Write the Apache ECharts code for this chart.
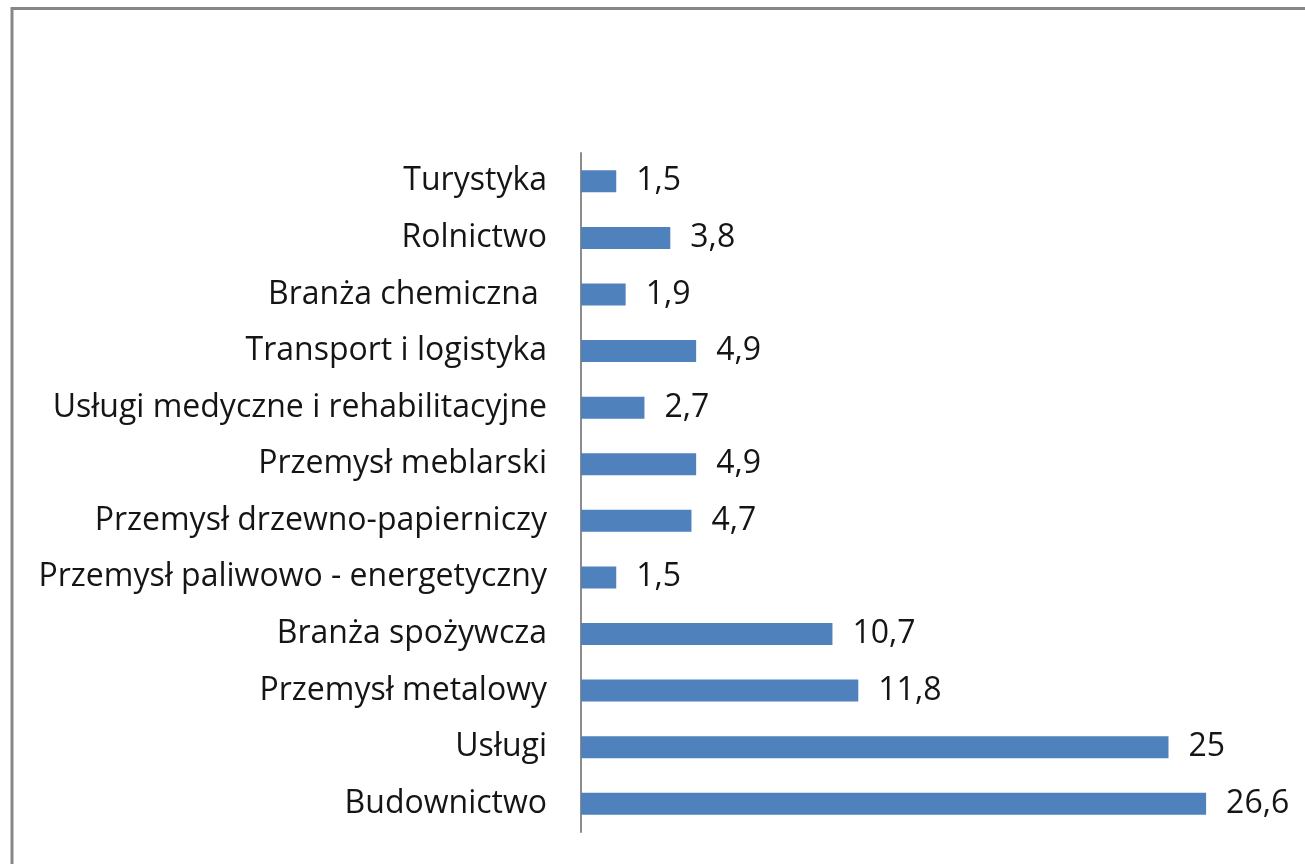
<!DOCTYPE html>
<html>
<head>
<meta charset="utf-8">
<script src="https://cdn.jsdelivr.net/npm/echarts@6/dist/echarts.min.js"></script>
<style>
  html, body { margin: 0; padding: 0; background: #fff; }
  #chart { width: 1305px; height: 864px; }
</style>
</head>
<body>
<div id="chart"></div>
<script>
  // kategorie od góry do dołu
  var categories = [
    'Turystyka',
    'Rolnictwo',
    'Branża chemiczna ',
    'Transport i logistyka',
    'Usługi medyczne i rehabilitacyjne',
    'Przemysł meblarski',
    'Przemysł drzewno-papierniczy',
    'Przemysł paliwowo - energetyczny',
    'Branża spożywcza',
    'Przemysł metalowy',
    'Usługi',
    'Budownictwo'
  ];
  var values = [1.5, 3.8, 1.9, 4.9, 2.7, 4.9, 4.7, 1.5, 10.7, 11.8, 25, 26.6];

  var font = '"Open Sans", sans-serif';

  var myChart = echarts.init(document.getElementById('chart'));

  var option = {
    backgroundColor: '#fff',
    animation: false,
    graphic: [{
      // ramka wykresu (obcięta z prawej i z dołu)
      type: 'rect',
      shape: { x: 12, y: 8.5, width: 1400, height: 1000 },
      style: { fill: null, stroke: '#878787', lineWidth: 3 },
      silent: true
    }],
    grid: {
      left: 581,
      right: 19,
      top: 153,
      bottom: 32
    },
    xAxis: {
      type: 'value',
      min: 0,
      max: 30,
      show: false,
      splitLine: { show: false }
    },
    yAxis: {
      type: 'category',
      data: categories,
      inverse: true,
      axisTick: { show: false },
      axisLine: {
        show: true,
        lineStyle: { color: '#8c8c8c', width: 2 }
      },
      axisLabel: {
        margin: 34,
        color: '#151515',
        fontSize: 32,
        fontFamily: font
      }
    },
    series: [{
      type: 'bar',
      data: values,
      barWidth: 22,
      itemStyle: { color: '#4f81bd' },
      label: {
        show: true,
        position: 'right',
        distance: 20,
        color: '#151515',
        fontSize: 32,
        fontFamily: font,
        formatter: function (p) {
          return String(p.value).replace('.', ',');
        }
      }
    }]
  };

  myChart.setOption(option);
</script>
</body>
</html>
